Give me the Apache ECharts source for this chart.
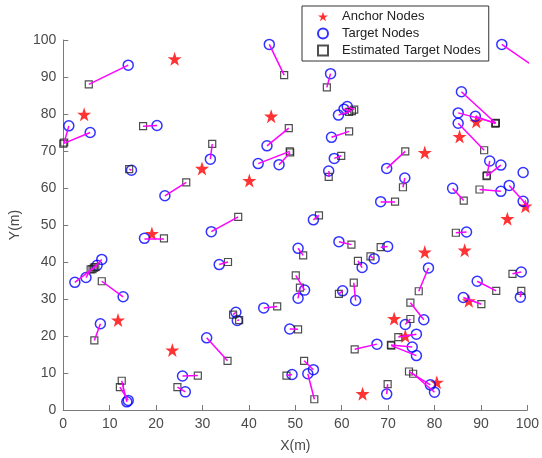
<!DOCTYPE html>
<html><head><meta charset="utf-8">
<script src="https://cdn.jsdelivr.net/npm/echarts/dist/echarts.min.js"></script>
<style>html,body{margin:0;padding:0;background:#fff}#c{width:542px;height:458px}</style>
</head><body><div id="c"></div>
<script>
// Anchor nodes
const anchorX = [4.5, 24.0, 44.8, 29.9, 40.1, 19.1, 11.8, 23.5, 64.5, 80.5,
                 71.3, 73.7, 77.9, 86.5, 87.4, 95.7, 99.6, 77.9, 85.4, 89.0];
const anchorY = [79.9, 94.9, 79.4, 65.3, 62.0, 47.7, 24.3, 16.2, 4.4, 7.5,
                 24.7, 20.0, 42.7, 43.2, 29.5, 51.7, 55.1, 69.6, 73.9, 78.0];
// Target nodes
const targetX = [14.0, 1.2, 5.8, 20.2, 14.7, 44.4, 57.6, 43.9, 31.7, 42.0,
                 46.5, 57.8, 58.4, 57.2, 59.3, 61.2, 60.5, 94.5, 85.8, 85.1,
                 88.8, 85.1, 69.7, 73.6, 68.4, 83.9, 91.9, 94.3, 99.1, 94.3,
                 96.1, 99.1, 86.9, 78.7, 69.9, 67.0, 64.4, 59.4, 63.0, 89.2,
                 98.7, 98.5, 86.2, 77.7, 73.7, 76.1, 75.2, 76.1, 67.6, 79.1,
                 80.0, 69.7, 12.9, 8.0, 13.7, 14.0, 25.7, 26.3, 21.9, 17.5,
                 2.5, 4.9, 7.3, 8.3, 31.9, 53.9, 50.6, 33.6, 52.0, 50.6,
                 60.2, 43.2, 37.2, 37.5, 48.8, 30.9, 53.9, 49.3, 52.7];
const targetY = [93.2, 76.8, 75.0, 76.9, 64.8, 98.8, 90.9, 71.4, 67.8, 66.6,
                 66.3, 73.7, 68.0, 64.6, 79.7, 82.0, 81.3, 98.8, 86.0, 80.3,
                 79.4, 77.5, 65.3, 62.7, 56.3, 59.9, 67.3, 66.2, 64.2, 59.1,
                 60.7, 56.4, 48.1, 38.4, 44.2, 40.9, 38.5, 45.5, 29.6, 34.8,
                 37.3, 30.5, 30.4, 24.4, 23.1, 20.5, 17.0, 14.7, 17.8, 6.8,
                 4.8, 4.3, 30.6, 23.3, 2.2, 2.6, 9.2, 4.9, 57.9, 46.4,
                 34.5, 35.8, 39.1, 40.7, 48.2, 51.4, 43.7, 39.3, 32.4, 30.2,
                 32.2, 27.6, 26.4, 24.2, 21.9, 19.5, 10.9, 9.6, 9.8];
// Estimated target nodes (same order as targets; null = not visible)
const estX = [5.5, 0.2, 0.0, 17.2, 14.2, 47.6, 56.8, 48.6, 32.1, 48.8,
              48.9, 61.6, 59.9, 57.2, 61.6, 62.7, 62.2, 103.0, 93.2, 93.2,
              93.1, 90.7, 73.7, 73.2, 71.5, 86.3, 91.3, 91.2, null, 89.7,
              101.5, 100.6, 84.6, 76.6, 68.4, 66.2, 63.5, 62.1, 62.6, 93.3,
              96.8, 98.7, 90.1, 74.8, 74.8, 72.2, 70.6, 70.7, 62.8, 74.5,
              75.4, 69.9, 8.3, 6.7, 12.6, 12.2, 29.0, 24.6, 26.5, 21.7,
              6.6, 5.9, 6.9, 6.3, 37.7, 55.1, 51.7, 35.5, 50.1, 51.0,
              59.4, 46.1, 36.6, 37.9, 50.6, 35.4, 51.9, 48.1, 54.1];
const estY = [88.0, 72.3, 72.0, 76.7, 65.1, 90.5, 87.2, 76.2, 71.9, 69.9,
              69.6, 75.3, 68.7, 63.0, 80.6, 81.2, 80.8, 91.5, 77.5, 77.6,
              77.4, 70.2, 69.9, 60.2, 56.3, 56.6, 63.4, 63.2, null, 59.6,
              53.2, 54.2, 47.9, 32.1, 44.0, 41.5, 40.3, 44.7, 34.4, 32.2,
              36.8, 32.2, 28.6, 29.0, 24.6, 19.7, 17.6, 17.4, 16.4, 10.4,
              9.8, 7.0, 34.8, 18.8, 7.9, 6.2, 9.3, 6.2, 61.5, 46.4,
              38.5, 38.0, 38.6, 38.1, 52.2, 52.6, 41.8, 40.0, 36.4, 33.1,
              31.4, 28.0, 25.8, 24.3, 21.8, 13.3, 13.3, 9.3, 2.9];
const axisMin = 0, axisMax = 100, axisStep = 10;
const xName = 'X(m)', yName = 'Y(m)';
const seriesNames = ['Anchor Nodes', 'Target Nodes', 'Estimated Target Nodes'];

const starPath = 'path://M50,0 L61.8,35.1 L98.1,35.1 L68.7,56.8 L79.4,91 L50,70 L20.6,91 L31.3,56.8 L1.9,35.1 L38.2,35.1 Z';
const anchors = anchorX.map((x, i) => [x, anchorY[i]]);
const targets = targetX.map((x, i) => [x, targetY[i]]);
const estimates = estX.map((x, i) => [x, estY[i]]).filter(p => p[0] !== null);
const links = targetX.map((x, i) => estX[i] === null ? null :
  { coords: [[x, targetY[i]], [estX[i], estY[i]]] }).filter(Boolean);

const font = 'Liberation Sans, Arial, sans-serif';
const axisCol = '#7a7a7a', labelCol = '#4a4a4a';
function axis(name, isX) {
  return {
    type: 'value', min: axisMin, max: axisMax, interval: axisStep,
    name: name, nameLocation: 'middle', nameGap: isX ? 29 : 36,
    nameTextStyle: { fontFamily: font, fontSize: 14, color: labelCol },
    axisLine: { show: true, lineStyle: { color: axisCol, width: 1 } },
    axisTick: { show: true, inside: true, length: 5, lineStyle: { color: axisCol } },
    axisLabel: { fontFamily: font, fontSize: 14, color: labelCol, margin: 7 },
    splitLine: { show: false }
  };
}
const chart = echarts.init(document.getElementById('c'), null, { renderer: 'canvas' });
chart.setOption({
  animation: false,
  backgroundColor: '#fff',
  grid: { left: 60, right: 11, top: 40, bottom: 43, containLabel: false },
  xAxis: axis(xName, true),
  yAxis: axis(yName, false),
  legend: {
    orient: 'vertical', left: 302, top: 6,
    padding: [4, 8, 4, 15], itemGap: 4, itemWidth: 10, itemHeight: 10,
    backgroundColor: '#fff', borderColor: '#333', borderWidth: 1,
    textStyle: { fontFamily: font, fontSize: 13, color: '#222', padding: [0, 0, 0, 9] },
    data: [
      { name: seriesNames[0], icon: starPath },
      { name: seriesNames[1], icon: 'circle' },
      { name: seriesNames[2], icon: 'rect' }
    ],
    z: 10
  },
  series: [
    {
      type: 'lines', coordinateSystem: 'cartesian2d', clip: true, silent: true,
      data: links, z: 4,
      lineStyle: { color: '#ff00ff', width: 1.5, opacity: 1, curveness: 0 }
    },
    {
      name: seriesNames[0], type: 'scatter', data: anchors, z: 3,
      symbol: starPath, symbolSize: 14,
      itemStyle: { color: '#ff0000' }
    },
    {
      name: seriesNames[1], type: 'scatter', data: targets, z: 3, clip: true,
      symbol: 'circle', symbolSize: 10,
      itemStyle: { color: 'rgba(0,0,0,0)', borderColor: '#0000ff', borderWidth: 1.5 }
    },
    {
      name: seriesNames[2], type: 'scatter', data: estimates, z: 3, clip: true,
      symbol: 'rect', symbolSize: 7,
      itemStyle: { color: 'rgba(0,0,0,0)', borderColor: '#222', borderWidth: 1.2 }
    }
  ]
});
</script></body></html>
